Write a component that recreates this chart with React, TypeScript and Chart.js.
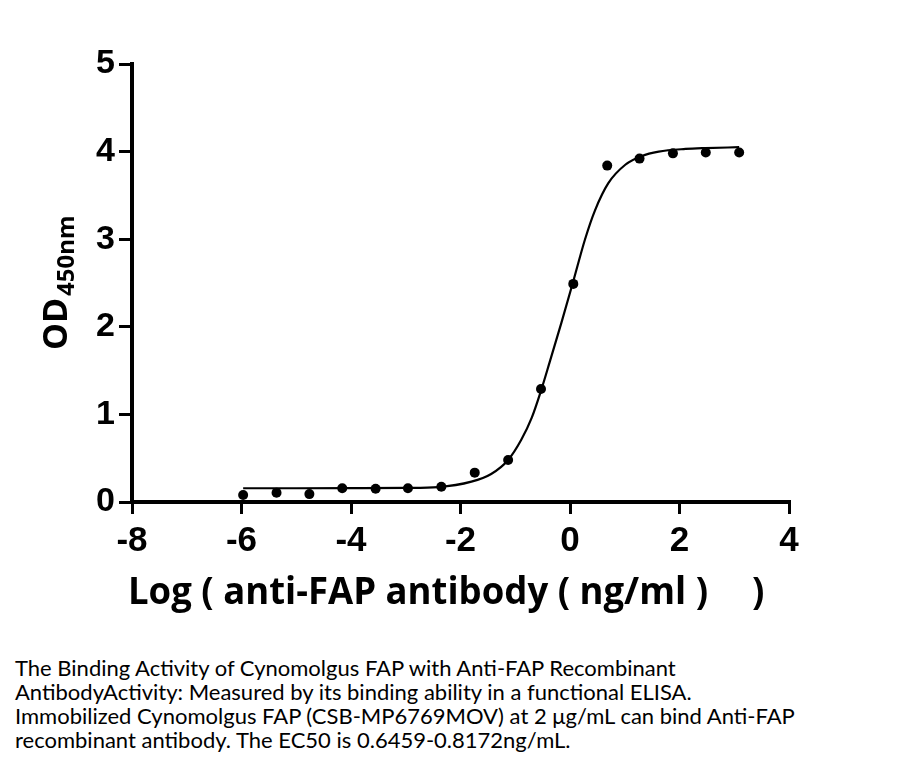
import React, { useEffect, useRef } from "react";
import { Chart, registerables } from "chart.js";

Chart.register(...registerables);

// Measured points: log10 concentration (ng/ml) vs OD450nm
const pointX = [-5.97, -5.36, -4.76, -4.16, -3.55, -2.96, -2.35, -1.74, -1.13, -0.53, 0.06, 0.68, 1.27, 1.88, 2.48, 3.09];
const pointY = [0.08, 0.105, 0.09, 0.157, 0.152, 0.157, 0.175, 0.335, 0.48, 1.29, 2.49, 3.84, 3.92, 3.98, 3.99, 3.99];

// Fitted curve
const curveX = [-5.97, -5.0, -4.0, -3.0, -2.41, -1.8, -1.44, -1.13, -0.89, -0.7, -0.53, -0.37, -0.155, 0.06, 0.275, 0.457, 0.7, 1.01, 1.31, 1.62, 2.11, 2.47, 3.09];
const curveY = [0.157, 0.157, 0.158, 0.161, 0.17, 0.232, 0.32, 0.48, 0.71, 0.96, 1.27, 1.6, 2.05, 2.52, 3.0, 3.33, 3.64, 3.85, 3.95, 4.0, 4.03, 4.04, 4.05];

const xTicks = [-8, -6, -4, -2, 0, 2, 4];
const yTicks = [0, 1, 2, 3, 4, 5];

const xTitleMain = "Log ( anti-FAP antibody ( ng/ml )";
const xTitleEnd = ")";
const yTitleMain = "OD";
const yTitleSub = "450nm";
const captionLines = [
  "The Binding Activity of Cynomolgus FAP with Anti-FAP Recombinant",
  "AntibodyActivity: Measured by its binding ability in a functional ELISA.",
  "Immobilized Cynomolgus FAP (CSB-MP6769MOV) at 2 μg/mL can bind Anti-FAP",
  "recombinant antibody. The EC50 is 0.6459-0.8172ng/mL.",
];

const W = 901;
const H = 640;
const TICK_FONT = "'Liberation Sans', Arial, sans-serif";
const TITLE_FONT = "'Open Sans', 'Liberation Sans', sans-serif";

const titlesPlugin = {
  id: "titles",
  afterDraw(chart: any) {
    const ctx = chart.ctx as CanvasRenderingContext2D;
    const area = chart.chartArea;
    ctx.save();
    ctx.fillStyle = "#000";
    // X title
    ctx.font = `bold 37px ${TITLE_FONT}`;
    ctx.textBaseline = "alphabetic";
    ctx.textAlign = "left";
    const left = area.left - 4;
    const mainW = ctx.measureText(xTitleMain).width;
    const target = 580;
    const sx = target / mainW;
    ctx.save();
    ctx.translate(left, 604);
    ctx.scale(sx, 1);
    ctx.fillText(xTitleMain, 0, 0);
    ctx.restore();
    ctx.save();
    ctx.translate(left + 624, 604);
    ctx.scale(sx, 1);
    ctx.fillText(xTitleEnd, 0, 0);
    ctx.restore();
    // Y title (rotated)
    ctx.save();
    ctx.translate(67, 350);
    ctx.rotate(-Math.PI / 2);
    ctx.font = `bold 34px ${TITLE_FONT}`;
    ctx.fillText(yTitleMain, 0, 0);
    ctx.restore();
    ctx.save();
    ctx.translate(74, 296);
    ctx.rotate(-Math.PI / 2);
    ctx.font = `bold 24px ${TITLE_FONT}`;
    ctx.fillText(yTitleSub, 0, 0);
    ctx.restore();
    ctx.restore();
  },
};

export default function App() {
  const ref = useRef<HTMLCanvasElement | null>(null);
  useEffect(() => {
    if (!ref.current) return;
    const chart = new Chart(ref.current, {
      type: "scatter",
      data: {
        datasets: [
          {
            label: "fit",
            data: curveX.map((x, i) => ({ x, y: curveY[i] })),
            showLine: true,
            borderColor: "#000",
            borderWidth: 2.2,
            pointRadius: 0,
            cubicInterpolationMode: "monotone",
          } as any,
          {
            label: "data",
            data: pointX.map((x, i) => ({ x, y: pointY[i] })),
            backgroundColor: "#000",
            borderColor: "#000",
            pointRadius: 5,
            pointBorderWidth: 0,
          },
        ],
      },
      options: {
        responsive: false,
        animation: false,
        devicePixelRatio: 1,
        layout: { padding: { left: 0, top: 64, right: 112, bottom: 0 } },
        plugins: { legend: { display: false }, tooltip: { enabled: false }, title: { display: false } },
        scales: {
          x: {
            type: "linear",
            min: -8,
            max: 4,
            afterBuildTicks: (s: any) => {
              s.ticks = xTicks.map((v) => ({ value: v }));
            },
            afterFit: (s: any) => {
              s.height = H - 502;
            },
            ticks: {
              color: "#000",
              font: { family: TICK_FONT, size: 35, weight: "bold" },
              padding: 6,
              maxRotation: 0,
              autoSkip: false,
            },
            grid: { drawOnChartArea: false, drawTicks: true, tickLength: 12, lineWidth: 3, color: "#000" },
            border: { display: true, color: "#000", width: 4 },
          },
          y: {
            type: "linear",
            min: 0,
            max: 5,
            afterBuildTicks: (s: any) => {
              s.ticks = yTicks.map((v) => ({ value: v }));
            },
            afterFit: (s: any) => {
              s.width = 132;
            },
            ticks: {
              color: "#000",
              font: { family: TICK_FONT, size: 34, weight: "bold" },
              padding: 4,
              autoSkip: false,
            },
            grid: { drawOnChartArea: false, drawTicks: true, tickLength: 13, lineWidth: 3, color: "#000" },
            border: { display: true, color: "#000", width: 4 },
          },
        },
      },
      plugins: [titlesPlugin],
    });
    return () => chart.destroy();
  }, []);

  return (
    <div style={{ position: "absolute", left: 0, top: 0, width: W, height: 766, background: "#fff", overflow: "hidden" }}>
      <canvas ref={ref} width={W} height={H} style={{ display: "block", width: W, height: H }} />
      <div
        style={{
          position: "absolute",
          left: 15,
          top: 656,
          fontFamily: "Lato, 'Open Sans', sans-serif",
          fontSize: 22,
          lineHeight: "24px",
          color: "#000",
          whiteSpace: "nowrap",
        }}
      >
        {captionLines.map((l, i) => (
          <div key={i}>{l}</div>
        ))}
      </div>
    </div>
  );
}
